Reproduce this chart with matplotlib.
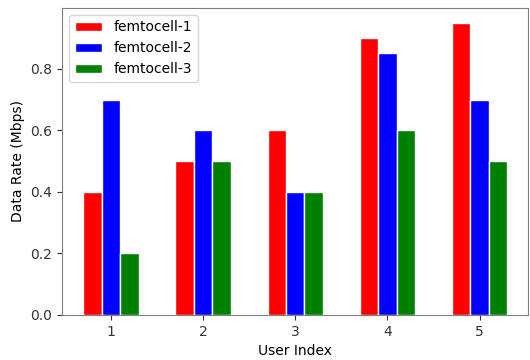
import numpy as np
import matplotlib
matplotlib.use("Agg")
import matplotlib.pyplot as plt

# data
users = [1, 2, 3, 4, 5]
femto1 = [0.4, 0.5, 0.6, 0.9, 0.95]
femto2 = [0.7, 0.6, 0.4, 0.85, 0.7]
femto3 = [0.2, 0.5, 0.4, 0.6, 0.5]

x = np.array(users)
w = 0.2

fig, ax = plt.subplots(figsize=(5.3, 3.6), dpi=100)
fig.subplots_adjust(left=0.117, right=0.997, bottom=0.125, top=0.978)

ax.bar(x - w, femto1, width=w, color='red', edgecolor='white', label='femtocell-1')
ax.bar(x, femto2, width=w, color='blue', edgecolor='white', label='femtocell-2')
ax.bar(x + w, femto3, width=w, color='green', edgecolor='white', label='femtocell-3')

ax.set_xticks(users)
ax.set_xlabel('User Index')
ax.set_ylabel('Data Rate (Mbps)')
for s in ax.spines.values():
    s.set_color('#7f7f7f')
ax.tick_params(colors='#333333')
ax.legend(loc='upper left')

plt.savefig('out.png')
